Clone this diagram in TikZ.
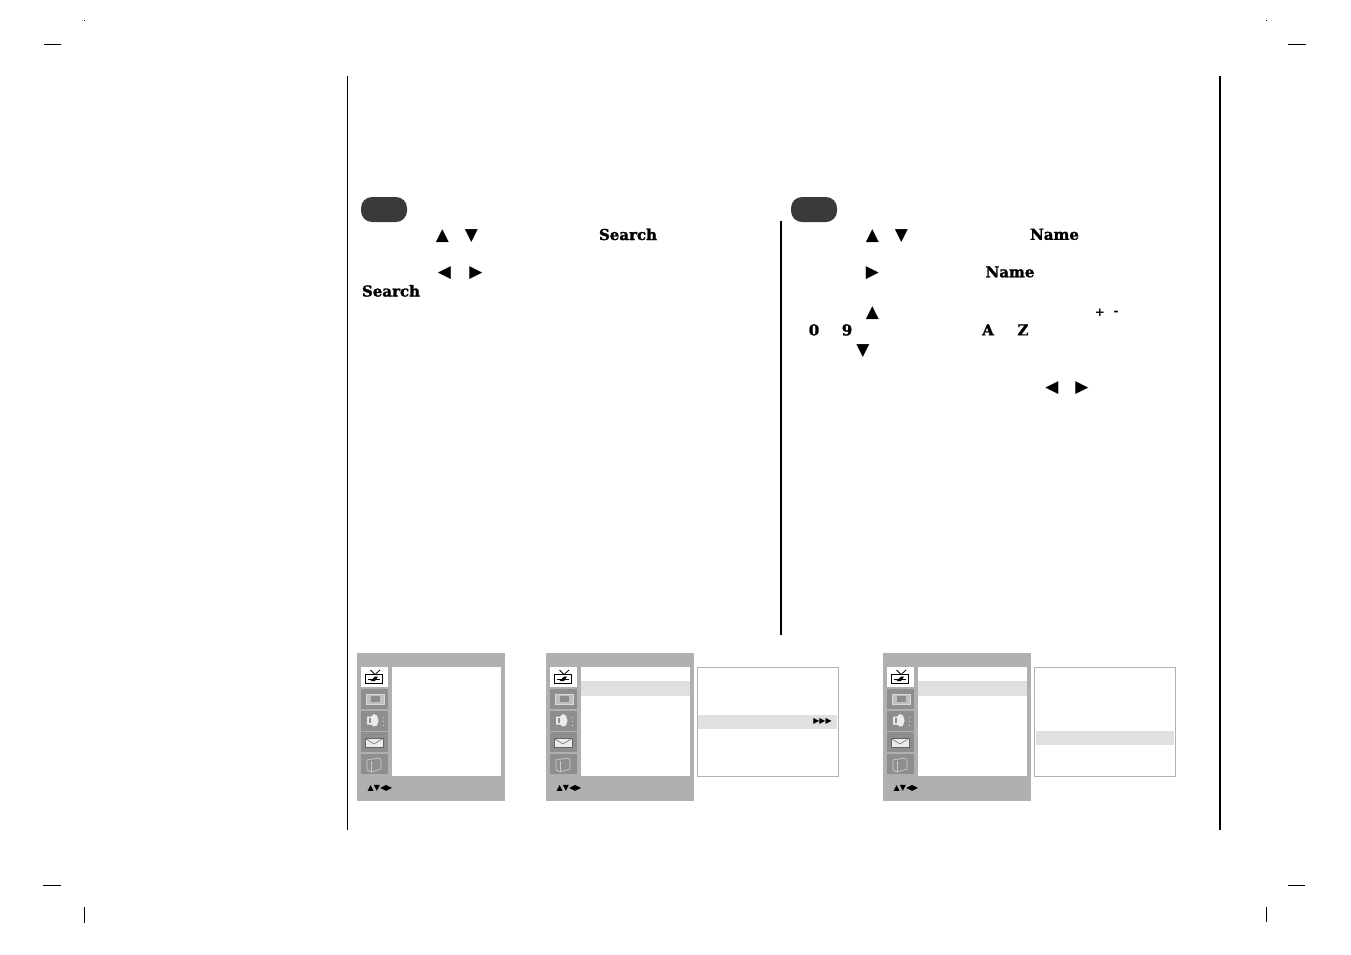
\documentclass[tikz,border=0pt]{standalone}
\usepackage{fontspec}
\setmainfont{DejaVu Serif}
\newfontfamily\slabfont[FakeBold=1.6]{DejaVu Serif Bold}
\newfontfamily\symfont{DejaVu Sans}
\definecolor{panelgray}{HTML}{B0B0B0}
\definecolor{icongray}{HTML}{8E8E8E}
\definecolor{rowgray}{HTML}{E0E0E0}
\definecolor{pillgray}{HTML}{3A3A3A}
\tikzset{
    word/.style={font=\slabfont\fontsize{15}{15}\selectfont,inner sep=0pt,yshift=0.6pt},
    arrowsym/.style={font=\symfont\fontsize{17}{17}\selectfont,inner sep=0pt,yshift=-0.7pt},
    smallsym/.style={font=\symfont\fontsize{8}{8}\selectfont,inner sep=0pt},
    signsym/.style={font=\symfont\bfseries\fontsize{12}{12}\selectfont,inner sep=0pt},
    pill/.style={fill=pillgray,rounded corners=11pt},
    popup/.style={draw=panelgray,line width=1.3pt,fill=white}
}
\begin{document}
\begin{tikzpicture}[x=1pt,y=-1pt]
    \useasboundingbox (0,0) rectangle (1351,954);
    % crop marks
    \draw[line width=1pt] (44,44) -- (61,44);
    \draw[line width=1pt] (1288,44) -- (1306,44);
    \draw[line width=1pt] (43,885) -- (61,885);
    \draw[line width=1pt] (1288,885) -- (1305,885);
    \draw[line width=1pt] (84.5,907) -- (84.5,923);
    \draw[line width=1pt] (1266,907) -- (1266,922);
    \fill (84,19.5) rectangle (85,20.5);
    \fill (1266,19.5) rectangle (1267,20.5);
    % rules
    \draw[line width=1pt] (347.8,76) -- (347.8,830);
    \draw[line width=2pt] (1220,76) -- (1220,830);
    \draw[line width=2pt] (781,221) -- (781,635);
    % step pills
    \fill[pill] (361,197) rectangle (407,222);
    \fill[pill] (791,197) rectangle (837,222);
    % left column
    \node[arrowsym] (upA) at (442.5,235) {▲};
    \node[arrowsym] (downA) at (471.5,235) {▼};
    \node[word] (searchA) at (628,235) {Search};
    \node[arrowsym] (leftA) at (444.5,272) {◀};
    \node[arrowsym] (rightA) at (476,272) {▶};
    \node[word] (searchB) at (391,291.5) {Search};
    % right column
    \node[arrowsym] (upB) at (872.5,235) {▲};
    \node[arrowsym] (downB) at (901.5,235) {▼};
    \node[word] (nameA) at (1054.5,235) {Name};
    \node[arrowsym] (rightB) at (872.5,272) {▶};
    \node[word] (nameB) at (1010,272.5) {Name};
    \node[arrowsym] (upC) at (872.5,312) {▲};
    \node[signsym] (plus) at (1100,313) {+};
    \node[signsym] (minus) at (1116,313) {-};
    \node[word] (zero) at (814,330.5) {0};
    \node[word] (nine) at (847,330.5) {9};
    \node[word] (letterA) at (988,330.5) {A};
    \node[word] (letterZ) at (1023,330.5) {Z};
    \node[arrowsym] (downC) at (863,350) {▼};
    \node[arrowsym] (leftB) at (1052,387) {◀};
    \node[arrowsym] (rightC) at (1082,387) {▶};
    % menu panels
    \foreach \px/\pn in {357/a,546/b,883/c} {
        \begin{scope}[shift={(\px,653)}]
            \fill[panelgray] (0,0) rectangle (148,148);
            \fill[white] (35,14) rectangle (144,123);
            \fill[white] (4,14) rectangle (31,34);
            \foreach \iy in {36,58,79,101}
                \fill[icongray] (4,\iy) rectangle (31,\iy+20);
            % tv
            \draw[line width=1.1pt] (8.5,21.5) rectangle (25.5,30.5);
            \draw[line width=0.8pt] (13.5,17) -- (18,21.5) -- (23,17);
            \draw[line width=0.9pt] (11,26) -- (23,26);
            \fill (13.5,28) -- (18,23.5) -- (21,23.5) -- (18,28) -- cycle;
            % screen
            \draw[line width=0.9pt,draw=white!85!black,fill=white!75!black] (9,41) rectangle (27,51);
            \fill[white!55!black] (14,43) rectangle (23,49);
            % speaker
            \fill[white!92!black] (10,63.5) -- (14,63.5) -- (17,61) -- (20,62.5) -- (21.5,67.5) -- (20,72.5) -- (17,73.5) -- (14,71.5) -- (10,71.5) -- cycle;
            \fill[icongray] (11.5,65) rectangle (13.5,70);
            \foreach \iy in {63.5,67.5,71.5}
                \fill[white!85!black] (26,\iy) rectangle (27,\iy+1);
            % mail
            \draw[line width=0.7pt,draw=black!60,fill=white!92!black] (8,85) rectangle (26,94);
            \draw[line width=0.6pt,draw=black!55] (9,86) -- (17,91) -- (25,86);
            % book
            \draw[line width=0.7pt,draw=white!80!black] (10,107) -- (22,105) -- (24,107) -- (24,116) -- (14,119) -- (10,117) -- cycle;
            \draw[line width=0.7pt,draw=white!80!black] (14,108) -- (14,119);
            \node[smallsym] (keys\pn) at (23,135) {▲▼◀▶};
        \end{scope}
    }
    % highlighted rows and side menus
    \fill[rowgray] (581,681) rectangle (690,696);
    \fill[rowgray] (918,681) rectangle (1027,696);
    \draw[popup] (697.5,667.5) rectangle (838.5,776.5);
    \fill[rowgray] (698,715) rectangle (837,729);
    \node[smallsym] (more) at (822.5,721.5) {▶▶▶};
    \draw[popup] (1034.5,667.5) rectangle (1175.5,776.5);
    \fill[rowgray] (1036,731) rectangle (1174,745);
\end{tikzpicture}
\end{document}
